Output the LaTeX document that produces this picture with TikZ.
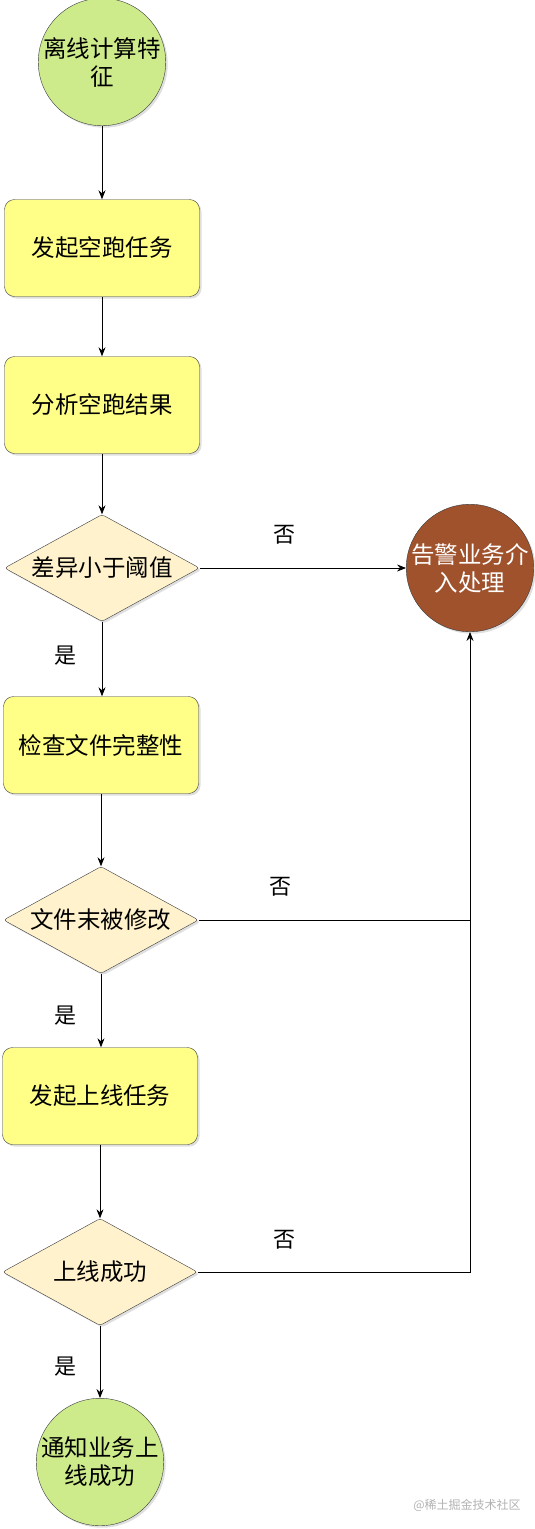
\documentclass[tikz,border=0pt]{standalone}
\usepackage{fontspec}
\setmainfont{Noto Sans CJK SC}
\usepackage{tikz}
\usetikzlibrary{shapes.geometric,arrows.meta,shadows}
\definecolor{hexcolor0xcdeb8b}{rgb}{0.804,0.922,0.545}
\definecolor{hexcolor0xffff88}{rgb}{1.000,1.000,0.533}
\definecolor{hexcolor0xfff2cc}{rgb}{1.000,0.949,0.800}
\definecolor{hexcolor0xa0522d}{rgb}{0.627,0.322,0.176}
\definecolor{myborder}{rgb}{0.212,0.224,0.239}
\definecolor{mygray}{rgb}{0.700,0.700,0.700}
\tikzstyle{shade}=[drop shadow={opacity=0.25,shadow xshift=2pt,shadow yshift=-2pt}]
\tikzstyle{start}=[circle,fill=hexcolor0xcdeb8b,draw=myborder,minimum size=122pt,inner sep=0pt,align=center,font=\fontsize{23.5}{28}\selectfont,shade]
\tikzstyle{alarm}=[circle,fill=hexcolor0xa0522d,draw=myborder,text=white,minimum size=124pt,inner sep=0pt,align=center,font=\fontsize{23.5}{28}\selectfont,shade]
\tikzstyle{task}=[rectangle,rounded corners=10pt,fill=hexcolor0xffff88,draw=myborder,minimum width=195pt,minimum height=97pt,font=\fontsize{23.5}{28}\selectfont,shade]
\tikzstyle{check}=[diamond,aspect=1.82,fill=hexcolor0xfff2cc,draw=myborder,rounded corners=3pt,minimum width=195pt,minimum height=107pt,inner sep=0pt,font=\fontsize{23.5}{28}\selectfont,shade]
\tikzstyle{lab}=[font=\fontsize{22}{26}\selectfont]
\tikzstyle{flow}=[-{Stealth[length=9pt,width=7pt]},thick]

\begin{document}
\begin{tikzpicture}[x=1pt,y=-1pt]
	\useasboundingbox (0,0) rectangle (535,1529);
		\node [style=start] (0) at (102, 62) {离线计算特\\征};
		\node [style=task] (1) at (102, 248) {发起空跑任务};
		\node [style=task] (2) at (102, 405) {分析空跑结果};
		\node [style=check] (3) at (102, 568) {差异小于阈值};
		\node [style=alarm] (4) at (470, 568) {告警业务介\\入处理};
		\node [style=task] (5) at (101, 745) {检查文件完整性};
		\node [style=check] (6) at (101, 920) {文件末被修改};
		\node [style=task] (7) at (100, 1096) {发起上线任务};
		\node [style=check] (8) at (100, 1272) {上线成功};
		\node [style=start] (9) at (100, 1462) {通知业务上\\线成功};
		\coordinate (10) at (470, 920);
		\coordinate (11) at (470, 1272);
		\node [style=lab] (12) at (284, 535) {否};
		\node [style=lab] (13) at (280, 887) {否};
		\node [style=lab] (14) at (284, 1240) {否};
		\node [style=lab] (15) at (65, 656) {是};
		\node [style=lab] (16) at (65, 1016) {是};
		\node [style=lab] (17) at (65, 1367) {是};
		\node [text=mygray,font=\fontsize{12}{14}\selectfont] (18) at (467, 1505) {@稀土掘金技术社区};
		\draw [style=flow] (0) to (1);
		\draw [style=flow] (1) to (2);
		\draw [style=flow] (2) to (3);
		\draw [style=flow] (3) to (4);
		\draw [style=flow] (3.south) to (3.south |- 5.north);
		\draw [style=flow] (5) to (6);
		\draw [style=flow] (6.south) to (6.south |- 7.north);
		\draw [style=flow] (7) to (8);
		\draw [style=flow] (8) to (9);
		\draw [thick] (6) to (10);
		\draw [thick] (8) -- (11) -- (10);
		\draw [style=flow] (10) to (4);
\end{tikzpicture}
\end{document}
